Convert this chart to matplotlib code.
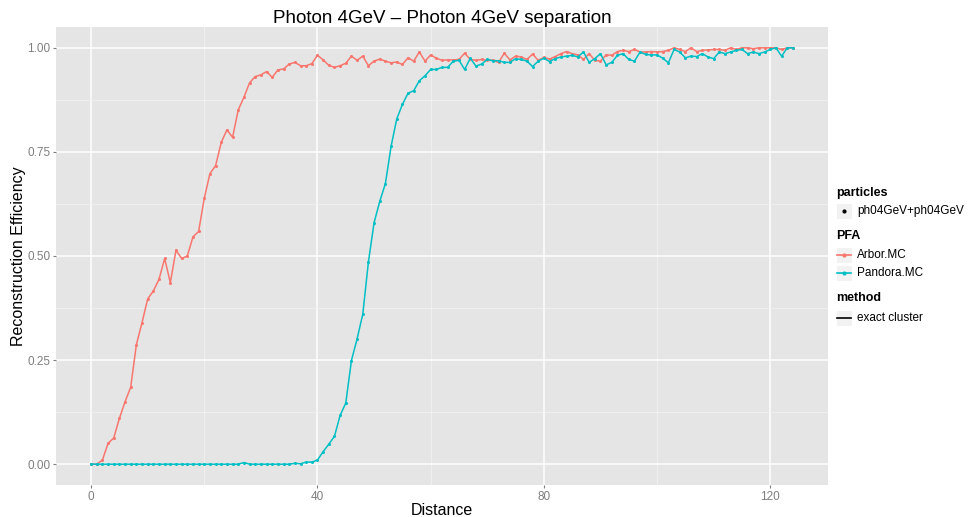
import numpy as np
from matplotlib import pyplot as plt
from matplotlib.patches import Rectangle
from matplotlib.lines import Line2D

plt.rcParams['font.family'] = ['Liberation Sans', 'DejaVu Sans']

# data
distance = list(range(0, 125))

arbor_mc = [
    0.0, 0.0, 0.01, 0.05, 0.063, 0.11, 0.15, 0.185, 0.287, 0.34,
    0.397, 0.416, 0.444, 0.494, 0.436, 0.514, 0.494, 0.5, 0.546, 0.559,
    0.639, 0.698, 0.717, 0.773, 0.803, 0.785, 0.851, 0.881, 0.916, 0.931,
    0.935, 0.943, 0.929, 0.947, 0.949, 0.961, 0.965, 0.957, 0.957, 0.962,
    0.982, 0.971, 0.958, 0.953, 0.957, 0.963, 0.980, 0.970, 0.980, 0.957,
    0.968, 0.973, 0.968, 0.964, 0.966, 0.960, 0.976, 0.968, 0.990, 0.968,
    0.983, 0.975, 0.970, 0.971, 0.971, 0.972, 0.987, 0.972, 0.970, 0.972,
    0.970, 0.970, 0.965, 0.987, 0.971, 0.980, 0.978, 0.972, 0.985, 0.970,
    0.977, 0.973, 0.979, 0.986, 0.991, 0.986, 0.983, 0.972, 0.986, 0.970,
    0.968, 0.983, 0.982, 0.991, 0.994, 0.991, 0.996, 0.990, 0.990, 0.991,
    0.990, 0.991, 0.994, 1.0, 0.996, 0.991, 1.0, 0.991, 0.994, 0.995,
    0.996, 0.996, 0.994, 1.0, 0.996, 1.0, 1.0, 0.998, 1.0, 1.0,
    1.0, 1.0, 0.996, 1.0, 1.0,
]

pandora_mc = [
    0.0, 0.0, 0.0, 0.0, 0.0, 0.0, 0.0, 0.0, 0.0, 0.0,
    0.0, 0.0, 0.0, 0.0, 0.0, 0.0, 0.0, 0.0, 0.0, 0.0,
    0.0, 0.0, 0.0, 0.0, 0.0, 0.0, 0.0, 0.004, 0.0, 0.0,
    0.0, 0.0, 0.0, 0.0, 0.0, 0.0, 0.002, 0.001, 0.005, 0.005,
    0.01, 0.03, 0.048, 0.067, 0.117, 0.147, 0.249, 0.301, 0.36, 0.486,
    0.58, 0.631, 0.674, 0.763, 0.829, 0.864, 0.891, 0.897, 0.921, 0.933,
    0.948, 0.948, 0.953, 0.953, 0.968, 0.970, 0.948, 0.975, 0.956, 0.961,
    0.972, 0.969, 0.969, 0.965, 0.965, 0.974, 0.972, 0.968, 0.955, 0.968,
    0.975, 0.967, 0.974, 0.978, 0.980, 0.982, 0.978, 0.990, 0.965, 0.974,
    0.986, 0.959, 0.965, 0.982, 0.986, 0.972, 0.968, 0.990, 0.984, 0.983,
    0.983, 0.975, 0.964, 0.996, 0.990, 0.976, 0.980, 0.979, 0.986, 0.978,
    0.974, 0.990, 0.986, 0.990, 0.994, 0.996, 0.986, 0.990, 0.986, 0.990,
    0.996, 1.0, 0.980, 1.0, 1.0,
]

x_ticks = [0, 40, 80, 120]
y_ticks = [0.0, 0.25, 0.5, 0.75, 1.0]

red = '#F8766D'
cyan = '#00BFC4'

fig = plt.figure(figsize=(9.75, 5.17), dpi=100)
ax = fig.add_axes([56 / 975, 1 - 485 / 517, (828 - 56) / 975, (485 - 27) / 517])
ax.set_facecolor('#E5E5E5')

ax.plot(distance, arbor_mc, color=red, lw=1.1, marker='o', ms=2.2, mew=0)
ax.plot(distance, pandora_mc, color=cyan, lw=1.1, marker='o', ms=2.2, mew=0)

ax.set_xlim(-6.2, 130.2)
ax.set_ylim(-0.05, 1.05)
ax.set_xticks(x_ticks)
ax.set_yticks(y_ticks)
ax.set_xticks([20, 60, 100], minor=True)
ax.set_yticks([0.125, 0.375, 0.625, 0.875], minor=True)
ax.set_yticklabels(['0.00', '0.25', '0.50', '0.75', '1.00'])
ax.grid(which='major', color='white', lw=1.1)
ax.grid(which='minor', color='#F2F2F2', lw=0.6)
ax.set_axisbelow(True)
for s in ax.spines.values():
    s.set_visible(False)
ax.tick_params(which='major', colors='#7F7F7F', labelsize=8.5, length=2.5, pad=1.5)
ax.tick_params(which='minor', length=0)

ax.set_xlabel('Distance', fontsize=11.5, labelpad=0)
ax.set_ylabel('Reconstruction Efficiency', fontsize=11.5, labelpad=1)
ax.set_title('Photon 4GeV \u2013 Photon 4GeV separation', fontsize=13.5, pad=3)

# legend drawn by hand, ggplot style
def key_box(y_px):
    fig.patches.append(Rectangle((836 / 975, 1 - (y_px + 8) / 517), 16 / 975, 16 / 517,
                                 transform=fig.transFigure, facecolor='#F2F2F2',
                                 edgecolor='white', lw=0.8))

def fy(y_px):
    return 1 - y_px / 517

legend_rows = [
    ('title', 'particles', 193, None),
    ('point', 'ph04GeV+ph04GeV', 211, 'black'),
    ('title', 'PFA', 236, None),
    ('line', 'Arbor.MC', 255, red),
    ('line', 'Pandora.MC', 273, cyan),
    ('title', 'method', 298, None),
    ('line', 'exact cluster', 318, 'black'),
]
for kind, label, y_px, c in legend_rows:
    if kind == 'title':
        fig.text(836 / 975, fy(y_px), label, fontsize=9, fontweight='bold', va='center')
        continue
    key_box(y_px)
    if kind == 'point':
        fig.lines.append(Line2D([844 / 975], [fy(y_px)], transform=fig.transFigure,
                                marker='o', ms=2, color=c, lw=0))
    else:
        fig.lines.append(Line2D([837 / 975, 851 / 975], [fy(y_px)] * 2,
                                transform=fig.transFigure, color=c, lw=1.2))
        if c != 'black':
            fig.lines.append(Line2D([844 / 975], [fy(y_px)], transform=fig.transFigure,
                                    marker='o', ms=2, color=c, lw=0))
    fig.text(857 / 975, fy(y_px), label, fontsize=8.5, va='center')

plt.savefig('out.png', dpi=100)
plt.close()
